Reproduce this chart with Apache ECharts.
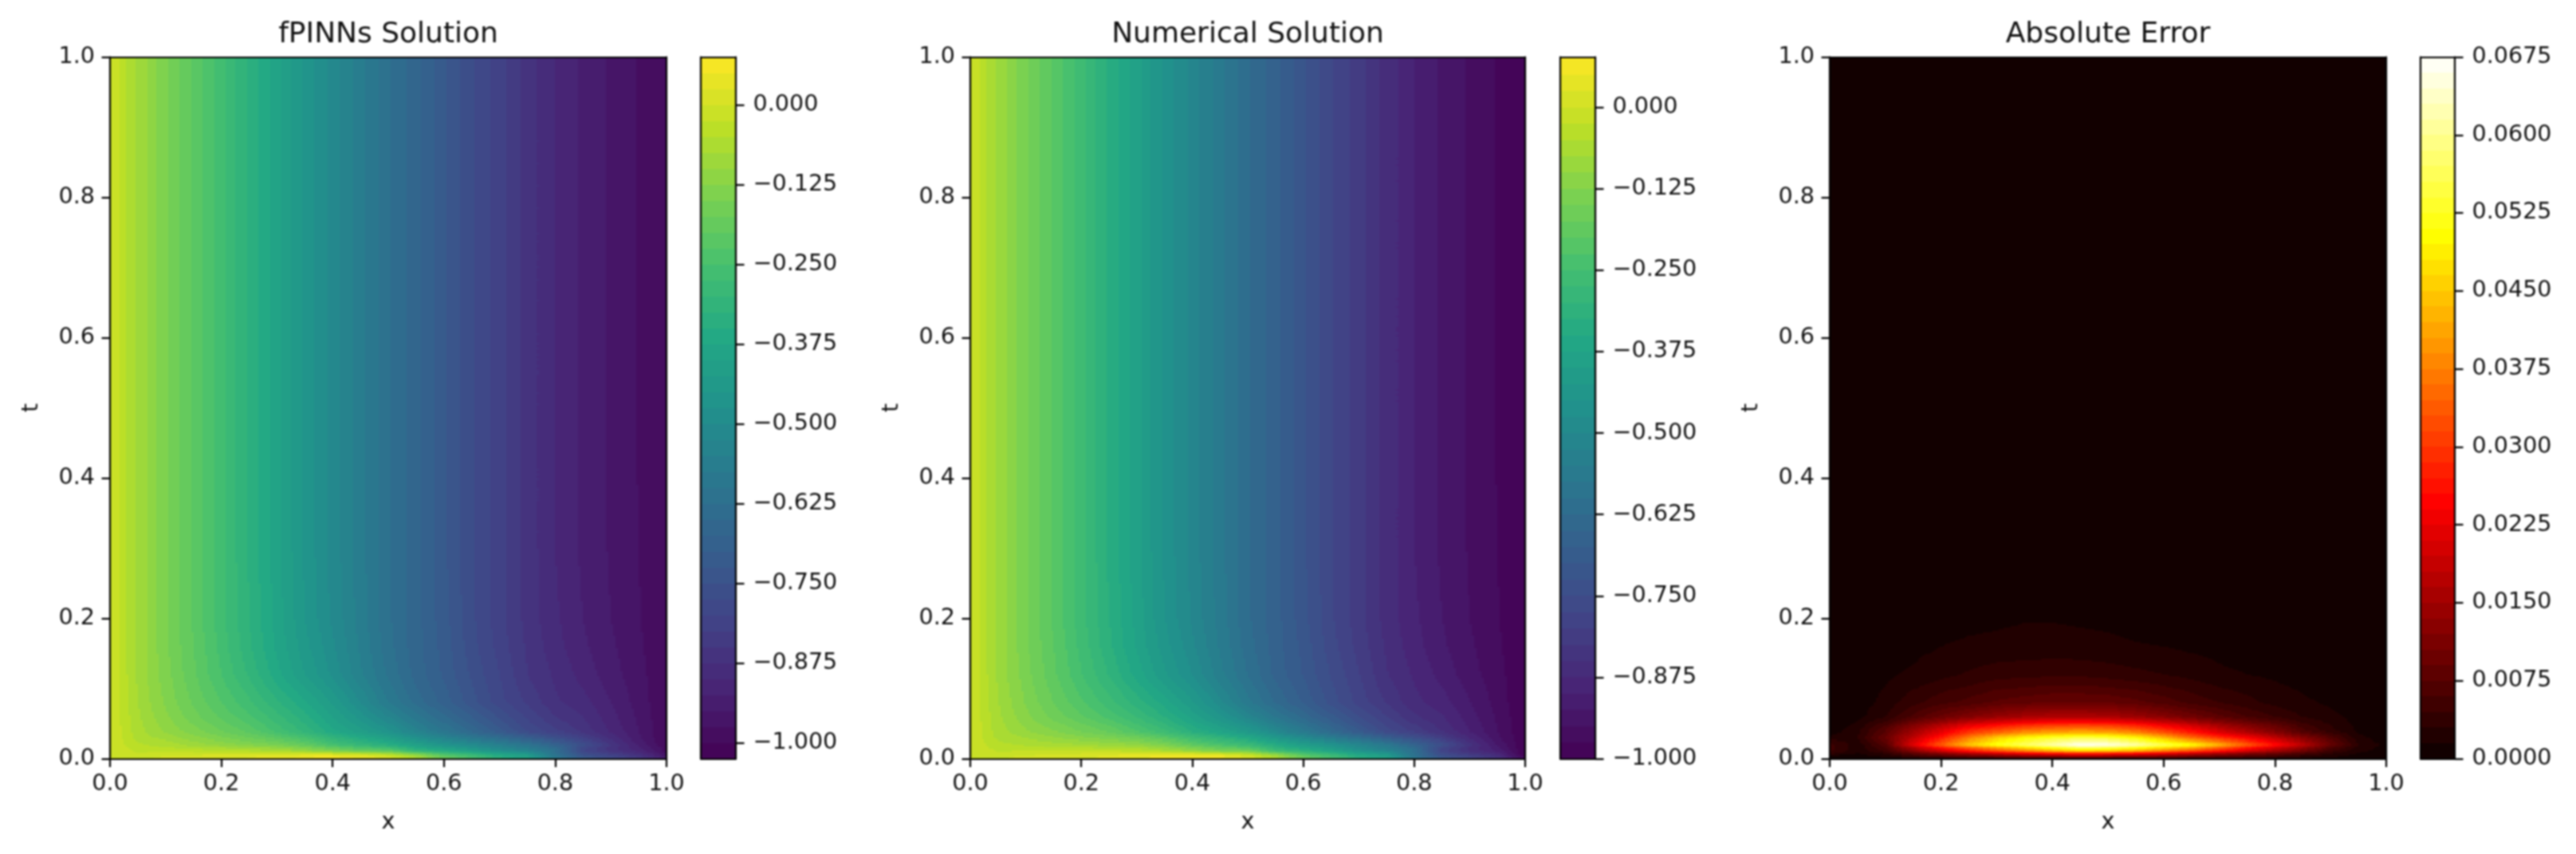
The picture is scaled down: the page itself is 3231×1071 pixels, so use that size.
<!DOCTYPE html>
<html><head><meta charset="utf-8">
<style>html,body{margin:0;padding:0;background:#fff}#c{width:3231px;height:1071px;filter:blur(0.8px)}</style>
<script src="https://cdn.jsdelivr.net/npm/echarts@6/dist/echarts.min.js"></script>
</head><body><div id="c"></div>
<script>
const xGrid = [0,.05,.1,.15,.2,.25,.3,.35,.4,.45,.5,.55,.6,.65,.7,.75,.8,.85,.9,.95,1];
const tGrid = [0,.004,.008,.012,.016,.02,.03,.04,.06,.08,.12,.16,.2,.3,.5,1];
const axisTicks = [0,.2,.4,.6,.8,1];

const fpinnsValues = [
[0,-.002,.003,.012,.018,.028,.04,.06,.062,.05,.02,-.05,-.16,-.24,-.32,-.38,-.56,-.7,-.78,-.84,-.93],
[0,-.005,0,.005,.01,.02,.03,.045,.05,.04,0,-.08,-.2,-.27,-.35,-.41,-.6,-.74,-.8,-.86,-.96],
[0,-.025,-.02,-.02,-.02,-.02,-.02,-.03,-.05,-.08,-.11,-.2,-.29,-.34,-.42,-.47,-.62,-.77,-.84,-.89,-.98],
[0,-.03,-.03,-.04,-.05,-.06,-.07,-.11,-.15,-.2,-.21,-.32,-.36,-.42,-.49,-.54,-.62,-.8,-.86,-.91,-.99],
[0,-.04,-.05,-.065,-.08,-.1,-.115,-.15,-.2,-.25,-.29,-.37,-.42,-.47,-.53,-.58,-.65,-.78,-.86,-.92,-.99],
[0,-.045,-.06,-.085,-.11,-.13,-.15,-.19,-.255,-.3,-.34,-.4,-.46,-.5,-.55,-.6,-.68,-.76,-.85,-.93,-1],
[0,-.06,-.085,-.115,-.145,-.175,-.21,-.255,-.315,-.36,-.41,-.48,-.535,-.59,-.64,-.7,-.76,-.82,-.885,-.945,-1],
[0,-.065,-.105,-.14,-.175,-.21,-.26,-.31,-.37,-.42,-.47,-.54,-.6,-.66,-.72,-.78,-.82,-.86,-.905,-.95,-1],
[0,-.07,-.12,-.165,-.205,-.245,-.29,-.34,-.4,-.46,-.525,-.59,-.645,-.7,-.755,-.805,-.85,-.875,-.915,-.955,-1],
[0,-.075,-.13,-.18,-.225,-.27,-.32,-.37,-.43,-.5,-.575,-.635,-.685,-.74,-.79,-.83,-.87,-.89,-.925,-.96,-1],
[0,-.08,-.14,-.195,-.25,-.305,-.365,-.425,-.48,-.545,-.605,-.66,-.705,-.755,-.8,-.85,-.88,-.91,-.94,-.965,-1],
[0,-.08,-.145,-.2,-.26,-.32,-.38,-.44,-.495,-.555,-.615,-.665,-.71,-.765,-.81,-.855,-.89,-.92,-.945,-.97,-1],
[0,-.08,-.145,-.205,-.265,-.325,-.385,-.45,-.505,-.56,-.62,-.665,-.715,-.77,-.815,-.86,-.895,-.925,-.95,-.973,-1],
[0,-.08,-.145,-.205,-.266,-.33,-.39,-.455,-.51,-.565,-.62,-.665,-.72,-.77,-.815,-.86,-.9,-.93,-.953,-.975,-1],
[0,-.08,-.145,-.205,-.266,-.33,-.39,-.455,-.51,-.565,-.62,-.665,-.72,-.77,-.815,-.86,-.9,-.93,-.955,-.977,-1],
[0,-.08,-.145,-.205,-.266,-.33,-.39,-.455,-.51,-.565,-.62,-.665,-.72,-.77,-.815,-.86,-.9,-.93,-.955,-.977,-1]
];

const numericalValues = [
[0,-.002,.004,.014,.02,.03,.042,.062,.064,.052,.022,-.048,-.158,-.238,-.318,-.378,-.558,-.698,-.778,-.84,-.95],
[0,-.004,.002,.01,.017,.03,.041,.058,.065,.056,.015,-.066,-.187,-.259,-.341,-.403,-.595,-.737,-.798,-.859,-1],
[0,-.024,-.017,-.011,-.006,-.001,.003,-.003,-.02,-.048,-.079,-.171,-.264,-.318,-.402,-.456,-.609,-.763,-.836,-.889,-1],
[0,-.028,-.025,-.027,-.029,-.032,-.036,-.071,-.106,-.152,-.163,-.276,-.321,-.386,-.462,-.518,-.604,-.789,-.855,-.908,-1],
[0,-.038,-.044,-.048,-.052,-.064,-.072,-.101,-.146,-.191,-.232,-.316,-.371,-.426,-.494,-.552,-.629,-.766,-.853,-.918,-1],
[0,-.043,-.053,-.063,-.074,-.085,-.098,-.133,-.193,-.233,-.274,-.338,-.404,-.449,-.507,-.566,-.654,-.742,-.841,-.927,-1],
[0,-.057,-.076,-.097,-.118,-.138,-.165,-.205,-.262,-.305,-.356,-.43,-.492,-.555,-.611,-.676,-.742,-.808,-.878,-.943,-1],
[0,-.063,-.098,-.125,-.154,-.182,-.228,-.274,-.332,-.381,-.432,-.505,-.57,-.635,-.7,-.765,-.809,-.853,-.901,-.949,-1],
[0,-.069,-.117,-.158,-.195,-.233,-.276,-.325,-.384,-.443,-.509,-.576,-.632,-.69,-.747,-.799,-.845,-.872,-.913,-.954,-1],
[0,-.074,-.128,-.176,-.22,-.264,-.312,-.362,-.421,-.491,-.566,-.627,-.678,-.735,-.785,-.827,-.868,-.888,-.924,-.96,-1],
[0,-.08,-.139,-.193,-.248,-.302,-.361,-.421,-.476,-.541,-.601,-.657,-.702,-.752,-.798,-.848,-.879,-.909,-.94,-.965,-1],
[0,-.08,-.145,-.199,-.258,-.318,-.378,-.438,-.493,-.553,-.613,-.663,-.708,-.764,-.809,-.854,-.889,-.92,-.945,-.97,-1],
[0,-.08,-.145,-.205,-.265,-.325,-.385,-.45,-.505,-.56,-.62,-.665,-.715,-.77,-.815,-.86,-.895,-.925,-.95,-.973,-1],
[0,-.08,-.145,-.205,-.266,-.33,-.39,-.455,-.51,-.565,-.62,-.665,-.72,-.77,-.815,-.86,-.9,-.93,-.953,-.975,-1],
[0,-.08,-.145,-.205,-.266,-.33,-.39,-.455,-.51,-.565,-.62,-.665,-.72,-.77,-.815,-.86,-.9,-.93,-.955,-.977,-1],
[0,-.08,-.145,-.205,-.266,-.33,-.39,-.455,-.51,-.565,-.62,-.665,-.72,-.77,-.815,-.86,-.9,-.93,-.955,-.977,-1]
];

const errorValues = [
[.001,.0005,.0005,.001,.001,.002,.002,.002,.002,.002,.002,.002,.002,.002,.002,.002,.002,.001,.001,.0005,.0002],
[.001,.0008,.002,.005,.0075,.0095,.0115,.0135,.015,.016,.0155,.0145,.013,.011,.009,.007,.0055,.0035,.002,.0008,.0003],
[.004,.0015,.0035,.009,.014,.019,.023,.027,.03,.032,.031,.029,.026,.022,.018,.014,.011,.007,.0035,.0015,.0005],
[.005,.002,.005,.013,.021,.028,.034,.039,.044,.048,.047,.044,.039,.034,.028,.022,.016,.011,.005,.002,.0008],
[.005,.002,.006,.017,.028,.036,.043,.049,.054,.059,.058,.054,.049,.044,.036,.028,.021,.014,.007,.0025,.001],
[.005,.002,.007,.022,.034,.045,.052,.057,.062,.067,.066,.062,.056,.051,.043,.034,.026,.018,.009,.003,.001],
[.002,.003,.009,.018,.027,.0375,.045,.05,.053,.055,.054,.05,.043,.035,.029,.024,.018,.012,.007,.002,.0005],
[.0005,.0025,.0075,.0145,.021,.028,.032,.036,.038,.039,.038,.035,.03,.025,.0195,.015,.011,.0065,.0035,.0012,.0003],
[.0002,.001,.003,.0065,.0095,.012,.014,.0155,.0165,.0165,.016,.0145,.0125,.01,.008,.006,.0045,.003,.002,.0008,.0002],
[.0001,.0006,.002,.004,.0055,.0065,.0078,.0085,.009,.009,.0088,.008,.0068,.0055,.0045,.0035,.0025,.0018,.0012,.0005,.0001],
[0,.0004,.0012,.0018,.0025,.0032,.0038,.004,.0042,.0042,.0038,.0034,.003,.0025,.0018,.0015,.0012,.0008,.0005,.0003,0],
[0,.0002,.0006,.001,.0015,.0018,.0019,.002,.002,.0019,.0018,.0016,.0015,.0012,.001,.0008,.0006,.0004,.0003,.0002,0],
[0,.0001,.0002,.0004,.0008,.001,.0012,.0014,.0014,.0013,.0012,.001,.0008,.0006,.0005,.0004,.0003,.0002,.0001,.0001,0],
[0,.0001,.0001,.0002,.0003,.0003,.0004,.0004,.0004,.0004,.0004,.0003,.0003,.0002,.0002,.0002,.0001,.0001,.0001,0,0],
[0,0,.0001,.0001,.0001,.0001,.0001,.0001,.0001,.0001,.0001,.0001,.0001,.0001,.0001,.0001,.0001,0,0,0,0],
[0,0,0,0,.0001,.0001,.0001,.0001,.0001,.0001,.0001,.0001,.0001,.0001,.0001,0,0,0,0,0,0]
];

const solutionTicks = [0,-.125,-.25,-.375,-.5,-.625,-.75,-.875,-1];
const errorTicks = [0,.0075,.015,.0225,.03,.0375,.045,.0525,.06,.0675];
const titles = ['fPINNs Solution','Numerical Solution','Absolute Error'];

const viridisStops = [[0,'#440154'],[.1,'#482475'],[.2,'#414487'],[.3,'#355f8d'],[.4,'#2a788e'],[.5,'#21918c'],[.6,'#22a884'],[.7,'#44bf70'],[.8,'#7ad151'],[.9,'#bddf26'],[1,'#fde725']];
const hotStops = [[0,'#0b0000'],[.365,'#ff0000'],[.746,'#ffff00'],[1,'#ffffff']];

const panels = [
 {values:fpinnsValues, stops:viridisStops, lo:-1.025, hi:.075, barLo:-1.025, barHi:.0757, step:.025, ticks:solutionTicks, digits:3, left:138, width:698, barLeft:879, barWidth:44},
 {values:numericalValues, stops:viridisStops, lo:-1, hi:.0775, barLo:-1, barHi:.0775, step:.025, ticks:solutionTicks, digits:3, left:1217, width:696, barLeft:1957, barWidth:44},
 {values:errorValues, stops:hotStops, lo:0, hi:.0675, barLo:0, barHi:.0675, step:.0015, ticks:errorTicks, digits:4, left:2295, width:698, barLeft:3036, barWidth:43}
];
const plotTop = 71.5, plotHeight = 880;
const FONT = 'DejaVu Sans', TEXT = '#111';

function hexToRgb(h){return [parseInt(h.slice(1,3),16),parseInt(h.slice(3,5),16),parseInt(h.slice(5,7),16)];}
function cmap(stops,u){
  u=Math.max(0,Math.min(1,u));
  for(let i=1;i<stops.length;i++){
    if(u<=stops[i][0]){
      const a=stops[i-1],b=stops[i],f=(u-a[0])/(b[0]-a[0]),A=hexToRgb(a[1]),B=hexToRgb(b[1]);
      return 'rgb('+A.map((c,k)=>Math.round(c+(B[k]-c)*f)).join(',')+')';
    }
  }
  return stops[stops.length-1][1];
}
function bandOf(p,v){return Math.max(0,Math.min(Math.ceil((p.hi-p.lo)/p.step)-1,Math.floor((v-p.lo)/p.step)));}
function bandColor(p,b){
  const mid=p.lo+(b+.5)*p.step;
  return cmap(p.stops,(mid-p.lo)/(p.hi-p.lo));
}

function fieldRender(p){
  return function(params,api){
    const x0=api.value(0),x1=api.value(1),t0=api.value(2),t1=api.value(3);
    const v00=api.value(4),v10=api.value(5),v01=api.value(6),v11=api.value(7);
    const a=api.coord([x0,t0]),b=api.coord([x1,t1]);
    const nx=Math.max(1,Math.round((b[0]-a[0])/3)),ny=Math.max(1,Math.round((a[1]-b[1])/2));
    const children=[];
    for(let i=0;i<nx;i++){
      const fx=(i+.5)/nx;
      const L=Math.round(a[0]+(b[0]-a[0])*i/nx),R=Math.round(a[0]+(b[0]-a[0])*(i+1)/nx);
      let run=-1,runStart=0;
      for(let j=0;j<=ny;j++){
        let band=-2;
        if(j<ny){
          const fy=(j+.5)/ny;
          const v=v00*(1-fx)*(1-fy)+v10*fx*(1-fy)+v01*(1-fx)*fy+v11*fx*fy;
          band=bandOf(p,v);
        }
        if(band!==run){
          if(run>=0){
            const yBottom=Math.round(a[1]+(b[1]-a[1])*runStart/ny),yTop=Math.round(a[1]+(b[1]-a[1])*j/ny);
            children.push({type:'rect',silent:true,shape:{x:L,y:yTop,width:R-L,height:yBottom-yTop},style:{fill:bandColor(p,run)}});
          }
          run=band;runStart=j;
        }
      }
    }
    return {type:'group',children};
  };
}
function barRender(p){
  return function(params,api){
    const b=api.value(0),lo=api.value(1),hi=api.value(2);
    const A=api.coord([0,lo]),B=api.coord([1,hi]);
    const y0=Math.round(A[1]),y1=Math.round(B[1]);
    return {type:'rect',silent:true,shape:{x:Math.round(A[0]),y:y1,width:Math.round(B[0]-A[0]),height:y0-y1},style:{fill:bandColor(p,b)}};
  };
}

const grid=[],xAxis=[],yAxis=[],series=[],title=[];
const lineStyle={color:'#000',width:2.2};
const tickStyle={show:true,length:10.5,lineStyle:{color:'#000',width:2.2}};
const labelBase={color:TEXT,fontFamily:FONT,fontSize:28.6};
function addAxes(gi,xOpt,yOpt){
  xAxis.push(Object.assign({type:'value',gridIndex:gi,min:0,max:1,position:'bottom',z:5,axisLine:{show:true,onZero:false,lineStyle},splitLine:{show:false},axisTick:{show:false},axisLabel:{show:false}},xOpt));
  const xi=xAxis.length-1;
  xAxis.push({type:'value',gridIndex:gi,min:0,max:1,position:'top',z:5,axisLine:{show:true,onZero:false,lineStyle},splitLine:{show:false},axisTick:{show:false},axisLabel:{show:false}});
  yAxis.push(Object.assign({type:'value',gridIndex:gi,min:0,max:1,position:'left',z:5,axisLine:{show:true,onZero:false,lineStyle},splitLine:{show:false},axisTick:{show:false},axisLabel:{show:false}},yOpt));
  const yi=yAxis.length-1;
  return {xi,yi};
}
panels.forEach((p,k)=>{
  grid.push({left:p.left,top:plotTop,width:p.width,height:plotHeight,containLabel:false});
  const gi=grid.length-1;
  const fmtAxis=v=>v.toFixed(1);
  const ax=addAxes(gi,
    {interval:.2,name:'x',nameLocation:'middle',nameGap:66,nameTextStyle:labelBase,axisTick:tickStyle,axisLabel:Object.assign({show:true,margin:18,formatter:fmtAxis,customValues:axisTicks},labelBase)},
    {interval:.2,name:'t',nameLocation:'middle',nameGap:84,nameTextStyle:labelBase,axisTick:tickStyle,axisLabel:Object.assign({show:true,margin:19,padding:[8,0,0,0],formatter:fmtAxis,customValues:axisTicks},labelBase)}
  );
  yAxis.push({type:'value',gridIndex:gi,min:0,max:1,position:'right',z:5,axisLine:{show:true,onZero:false,lineStyle},splitLine:{show:false},axisTick:{show:false},axisLabel:{show:false}});
  const cells=[];
  for(let j=0;j<tGrid.length-1;j++)for(let i=0;i<xGrid.length-1;i++){
    cells.push([xGrid[i],xGrid[i+1],tGrid[j],tGrid[j+1],p.values[j][i],p.values[j][i+1],p.values[j+1][i],p.values[j+1][i+1]]);
  }
  series.push({type:'custom',name:titles[k],coordinateSystem:'cartesian2d',xAxisIndex:ax.xi,yAxisIndex:ax.yi,z:1,silent:true,animation:false,clip:false,renderItem:fieldRender(p),encode:{x:[0,1],y:[2,3]},data:cells});
  title.push({text:titles[k],left:p.left+p.width/2-5,top:21,textAlign:'center',textStyle:{color:TEXT,fontFamily:FONT,fontSize:36,fontWeight:'normal'}});

  grid.push({left:p.barLeft,top:plotTop,width:p.barWidth,height:plotHeight,containLabel:false});
  const gb=grid.length-1;
  const fmtBar=v=>v.toFixed(p.digits).replace('-','\u2212');
  const bx=addAxes(gb,{},{min:p.barLo,max:p.barHi});
  yAxis.push({type:'value',gridIndex:gb,min:p.barLo,max:p.barHi,position:'right',z:5,axisLine:{show:true,onZero:false,lineStyle},splitLine:{show:false},
    axisTick:Object.assign({},tickStyle,{customValues:p.ticks}),
    axisLabel:Object.assign({show:true,margin:21.5,padding:[8,0,0,0],formatter:fmtBar,customValues:p.ticks,showMinLabel:true,showMaxLabel:true},labelBase)});
  const bands=[];
  const count=Math.ceil((p.hi-p.lo)/p.step-1e-9);
  for(let b=0;b<count;b++){bands.push([b,Math.max(p.barLo,p.lo+b*p.step),Math.min(p.barHi,p.lo+(b+1)*p.step)]);}
  series.push({type:'custom',name:titles[k]+' colorbar',coordinateSystem:'cartesian2d',xAxisIndex:bx.xi,yAxisIndex:bx.yi,z:1,silent:true,animation:false,clip:false,renderItem:barRender(p),encode:{y:[1,2]},data:bands});
});

const chart=echarts.init(document.getElementById('c'),null,{renderer:'canvas',width:3231,height:1071});
chart.setOption({animation:false,backgroundColor:'#fff',title,grid,xAxis,yAxis,series,tooltip:{show:false}});
</script></body></html>
